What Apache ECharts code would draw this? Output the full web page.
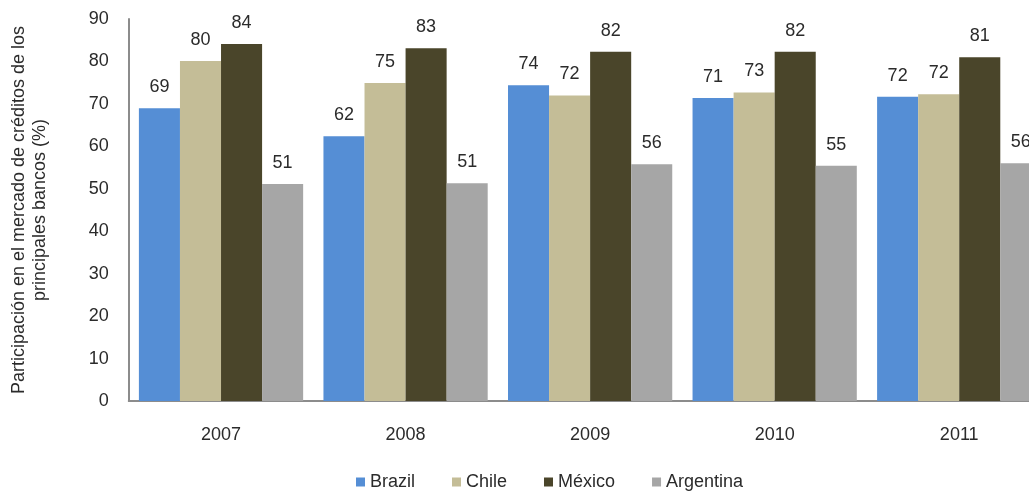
<!DOCTYPE html>
<html>
<head>
<meta charset="utf-8">
<style>
  html, body { margin: 0; padding: 0; background: #fff; overflow: hidden; }
  #chart { width: 1052px; height: 491px; }
</style>
<script src="https://cdn.jsdelivr.net/npm/echarts@6/dist/echarts.min.js"></script>
</head>
<body>
<div id="chart"></div>
<script>
// Share of the credit market held by the main banks (%)
const years = ['2007', '2008', '2009', '2010', '2011'];
const brazil    = [69.0, 62.4, 74.4, 71.4, 71.7];
const chile     = [80.1, 74.9, 72.0, 72.7, 72.3];
const mexico    = [84.1, 83.1, 82.3, 82.3, 81.0];
const argentina = [51.1, 51.3, 55.8, 55.4, 56.0];
const yTicks = { min: 0, max: 90, interval: 10 };

const seriesDefs = [
  { name: 'Brazil', data: brazil, color: '#558ED5' },
  { name: 'Chile', data: chile, color: '#C4BD97' },
  { name: 'M\u00e9xico', data: mexico, color: '#4A452A' },
  { name: 'Argentina', data: argentina, color: '#A6A6A6' }
];

const FONT = 'Liberation Sans, Arial, sans-serif';
const TEXT = '#2b2b2b';

const chart = echarts.init(document.getElementById('chart'), null, { renderer: 'canvas' });
chart.setOption({
  animation: false,
  textStyle: { fontFamily: FONT },
  grid: { left: 128.75, right: 0.5, top: 19, bottom: 90, containLabel: false, outerBoundsMode: 'none' },
  legend: {
    left: 351,
    top: 468,
    itemWidth: 9,
    itemHeight: 9,
    itemGap: 37,
    icon: 'rect',
    textStyle: { fontFamily: FONT, fontSize: 18, color: TEXT },
    data: seriesDefs.map(s => s.name)
  },
  xAxis: {
    type: 'category',
    data: years,
    axisLine: { lineStyle: { color: '#8C8C8C', width: 2 } },
    axisTick: { show: false },
    axisLabel: { fontFamily: FONT, fontSize: 18, color: TEXT, margin: 25 }
  },
  yAxis: {
    type: 'value',
    min: yTicks.min,
    max: yTicks.max,
    interval: yTicks.interval,
    name: 'Participaci\u00f3n en el mercado de cr\u00e9ditos de los\nprincipales bancos (%)',
    nameLocation: 'middle',
    nameRotate: 90,
    nameGap: 78,
    nameTextStyle: { fontFamily: FONT, fontSize: 18, color: TEXT, lineHeight: 21, align: 'center' },
    axisLine: { show: true, lineStyle: { color: '#8C8C8C', width: 2 } },
    axisTick: { show: false },
    splitLine: { show: false },
    axisLabel: { fontFamily: FONT, fontSize: 18, color: TEXT, margin: 20 }
  },
  series: seriesDefs.map(s => ({
    type: 'bar',
    name: s.name,
    data: s.data,
    barGap: '0%',
    barCategoryGap: '11%',
    itemStyle: { color: s.color },
    label: {
      show: true,
      position: 'top',
      distance: 12,
      fontFamily: FONT,
      fontSize: 18,
      color: TEXT,
      formatter: p => Math.round(p.value)
    }
  }))
});
</script>
</body>
</html>
